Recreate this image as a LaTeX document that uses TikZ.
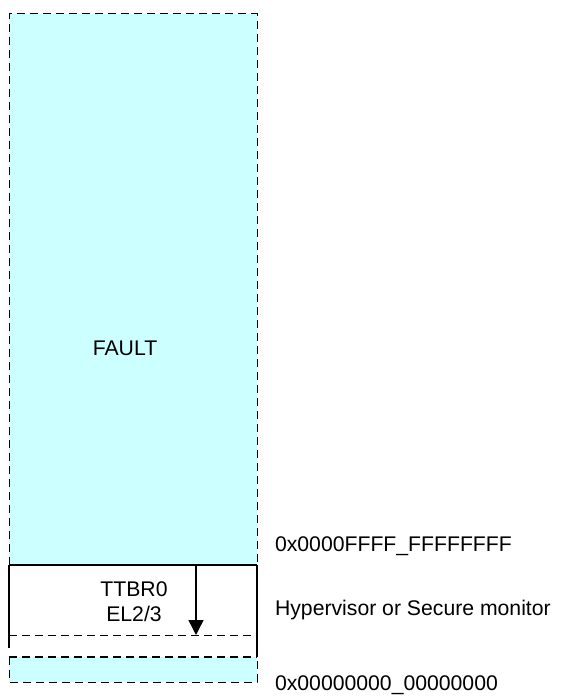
\documentclass[tikz,border=0pt]{standalone}
\usepackage{fontspec}
\setmainfont{Liberation Sans}
\usetikzlibrary{arrows.meta}
\definecolor{faultcyan}{HTML}{CCFFFF}
\begin{document}
\begin{tikzpicture}[x=0.5pt, y=-0.5pt, >={Triangle[width=7.5pt,length=7.5pt]},
    every node/.style={font=\fontsize{10.6}{12.5}\selectfont},
    edgedash/.style={dash pattern=on 4pt off 2.5pt, line width=0.5pt}]
    \useasboundingbox (0,0) rectangle (564,700);

    \coordinate (TL) at (9,14);
    \coordinate (TR) at (257,14);
    \coordinate (ML) at (9,565);
    \coordinate (MR) at (257,565);

    % fault region
    \fill[faultcyan] (TL) rectangle (MR);
    \draw[edgedash] (ML) -- (TL) -- (TR) -- (MR);
    \node (fault) at (125,348) {FAULT};

    % TTBR0 region
    \draw[line width=0.6pt] (9,648) -- (ML);
    \draw[line width=0.6pt] (MR) -- (257,657);
    \draw[edgedash] (9,635) -- (257,635);
    \draw[line width=1pt] (ML) -- (MR);
    \node[align=center] (ttbr) at (134,602) {TTBR0\\EL2/3};
    \coordinate (arrtop) at (196,565);
    \coordinate (arrtip) at (196,635);
    \draw[->, line width=0.7pt] (arrtop) -- (arrtip);

    % bottom band
    \fill[faultcyan] (9,657) rectangle (257,682);
    \draw[edgedash] (9,657) -- (9,682) -- (257,682) -- (257,657);
    \draw[edgedash, line width=0.9pt] (9,657) -- (257,657);

    % address labels
    \node[anchor=west] (topaddr) at (268,546) {0x0000FFFF\_FFFFFFFF};
    \node[anchor=west] (hyp) at (268,610) {Hypervisor or Secure monitor};
    \node[anchor=west] (botaddr) at (268,685) {0x00000000\_00000000};
\end{tikzpicture}
\end{document}
